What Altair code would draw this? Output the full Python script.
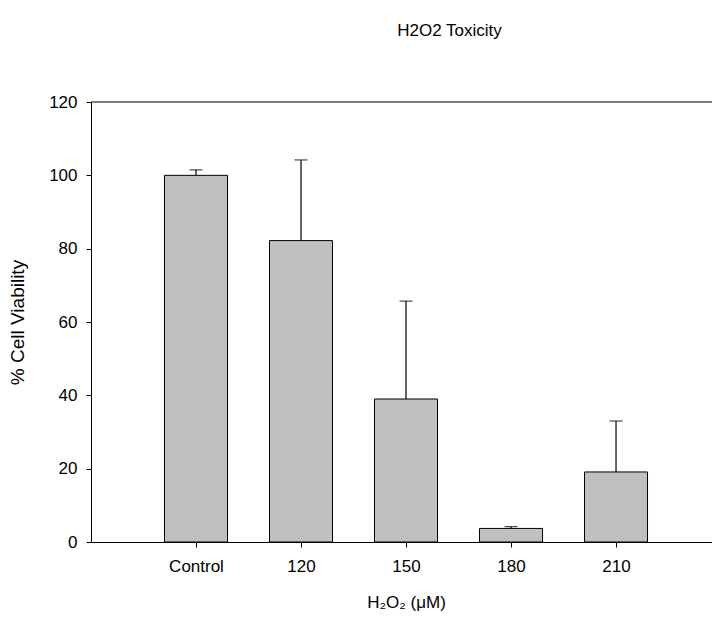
import altair as alt
import pandas as pd

categories = ["Control", "120", "150", "180", "210"]
positions = [1, 2, 3, 4, 5]
viability = [100.0, 82.2, 39.0, 3.7, 19.1]
err_top = [101.5, 104.2, 65.7, 4.2, 33.0]

df = pd.DataFrame({"pos": positions, "cat": categories, "v": viability, "e": err_top})

label_expr = "[''," + ",".join("'%s'" % c for c in categories) + "][datum.value]"
FONT = "Liberation Sans"

x_scale = alt.Scale(domain=[0, 5.914], nice=False, zero=False, padding=0)
y_scale = alt.Scale(domain=[0, 120], nice=False, padding=0)

base = alt.Chart(df)

bars = base.mark_bar(size=63, fill="#c0c0c0", stroke="black", strokeWidth=1).encode(
    x=alt.X("pos:Q", scale=x_scale, axis=alt.Axis(
        values=positions, labelExpr=label_expr, grid=False,
        title="H₂O₂ (μM)", titleFont=FONT, titleFontSize=17, titleFontWeight="normal",
        titleColor="black", titlePadding=20, titleX=315,
        labelFont=FONT, labelFontSize=17, labelColor="black", labelPadding=11,
        tickColor="black", tickSize=5, domainColor="black", labelFlush=False)),
    y=alt.Y("v:Q", scale=y_scale, axis=alt.Axis(
        values=[0, 20, 40, 60, 80, 100, 120], grid=False,
        title="% Cell Viability", titleFont=FONT, titleFontSize=19, titleFontWeight="normal",
        titleColor="black", titlePadding=21,
        labelFont=FONT, labelFontSize=17, labelColor="black", labelPadding=9,
        tickColor="black", tickSize=5, domainColor="black")),
)

err = base.mark_rule(color="black", strokeWidth=1.2).encode(
    x="pos:Q", y="v:Q", y2="e:Q")
caps = base.mark_tick(orient="horizontal", size=13, thickness=1.2, color="black").encode(
    x="pos:Q", y="e:Q")

top_line = alt.Chart(pd.DataFrame({"y": [120]})).mark_rule(color="black", strokeWidth=1.2).encode(
    y=alt.Y("y:Q", scale=y_scale))

chart = alt.layer(err, caps, bars, top_line).properties(
    width=621, height=440,
    title=alt.TitleParams("H2O2 Toxicity", font=FONT, fontSize=17, fontWeight="normal",
                          color="black", anchor="middle", dx=48, offset=53),
    autosize=alt.AutoSizeParams(type="none"),
    padding={"left": 91, "top": 102, "right": 0, "bottom": 77},
).configure_view(stroke=None)

chart.save("out.html", embed_options={"renderer": "svg", "actions": False})
